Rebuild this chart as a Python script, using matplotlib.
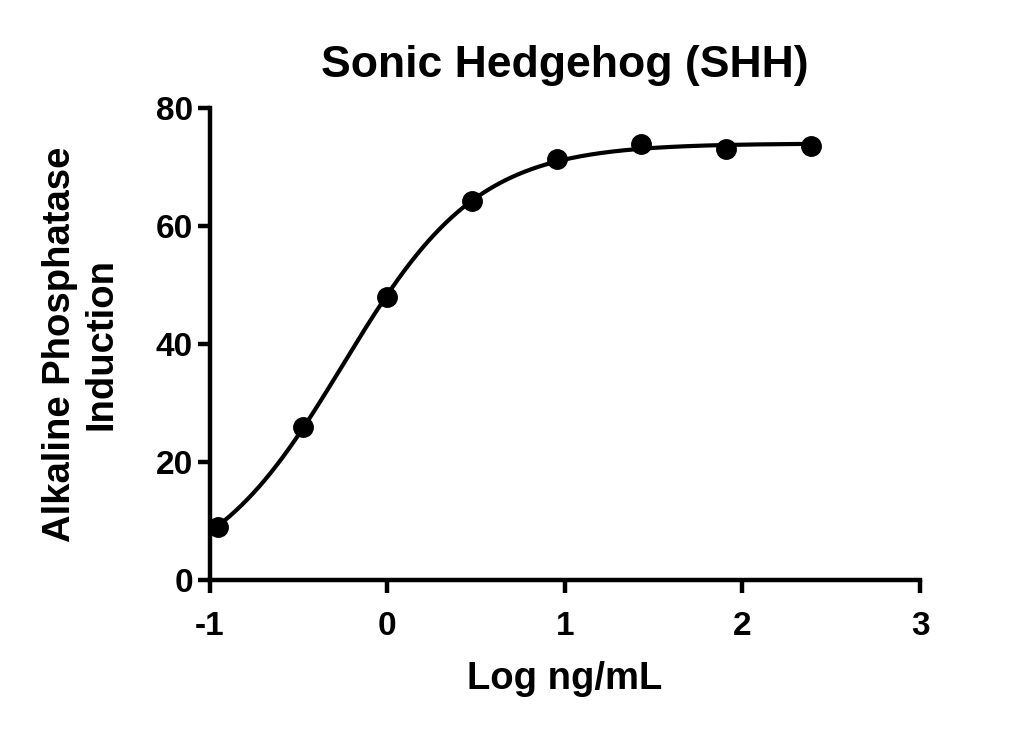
import numpy as np
import matplotlib
matplotlib.use('Agg')
import matplotlib.pyplot as plt

# dose response, log10 ng/mL vs induction
log_conc = [-0.954, -0.477, 0.0, 0.477, 0.954, 1.431, 1.908, 2.386]
induction = [9.0, 26.0, 48.0, 64.3, 71.4, 73.9, 73.0, 73.5]
x_ticks = [-1, 0, 1, 2, 3]
y_ticks = [0, 20, 40, 60, 80]

x = np.array(log_conc)
y = np.array(induction)


# 4PL fit: grid over logEC50 / hill, linear solve for bottom & top
def fit_4pl(x, y):
    best = None
    for ec in np.linspace(-1.5, 1.5, 301):
        for h in np.linspace(0.3, 3.0, 271):
            s = 1.0 / (1.0 + 10 ** ((ec - x) * h))
            A = np.column_stack([1 - s, s])
            coef, *_ = np.linalg.lstsq(A, y, rcond=None)
            err = np.sum((A @ coef - y) ** 2)
            if best is None or err < best[0]:
                best = (err, coef[0], coef[1], ec, h)
    return best[1:]


bottom, top, ec50, hill = fit_4pl(x, y)
xf = np.linspace(x.min(), x.max(), 300)
yf = bottom + (top - bottom) / (1 + 10 ** ((ec50 - xf) * hill))

plt.rcParams['font.family'] = ['Liberation Sans', 'DejaVu Sans']
plt.rcParams['font.weight'] = 'bold'

fig = plt.figure(figsize=(10.28, 7.32), dpi=100)
ax = fig.add_axes([0.204, 0.2077, 0.691, 0.6448])

ax.plot(xf, yf, color='black', lw=3.0, zorder=2)
ax.plot(x, y, 'o', color='black', ms=14, zorder=3)

ax.set_xlim(-1, 3)
ax.set_ylim(0, 80)
ax.set_xticks(x_ticks)
ax.set_yticks(y_ticks)
ax.set_xticklabels([str(t) for t in x_ticks])
for side in ['top', 'right']:
    ax.spines[side].set_visible(False)
for side in ['left', 'bottom']:
    ax.spines[side].set_linewidth(3.2)
ax.tick_params(width=3.2, length=9, labelsize=24)
ax.tick_params(axis='x', pad=13)
ax.tick_params(axis='y', pad=3)
for lab in ax.get_xticklabels() + ax.get_yticklabels():
    lab.set_fontweight('bold')

ax.set_xlabel('Log ng/mL', fontsize=27.5, fontweight='bold', labelpad=14)
ax.set_ylabel('Alkaline Phosphatase\nInduction', fontsize=27.5, fontweight='bold',
              labelpad=26, linespacing=1.2)
ax.set_title('Sonic Hedgehog (SHH)', fontsize=32, fontweight='bold', pad=22)

fig.savefig('out.png', dpi=100)
